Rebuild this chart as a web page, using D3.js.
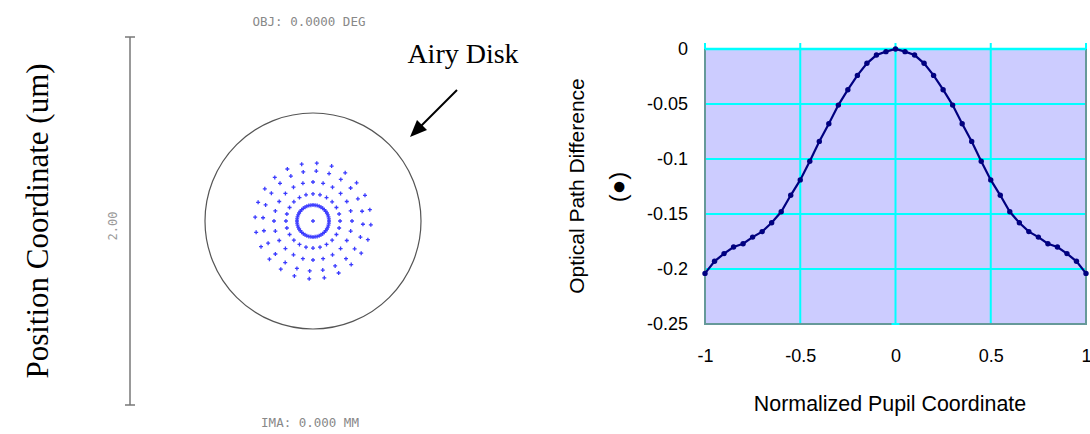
<!DOCTYPE html>
<html>
<head>
<meta charset="utf-8">
<script src="https://cdn.jsdelivr.net/npm/d3@7"></script>
<style>
  body { margin: 0; background: #fff; }
  svg { display: block; }
</style>
</head>
<body>
<div id="canvas"></div>
<script>
const width = 1090, height = 434;

// OPD curve (right panel)
const pupilX = [-1, -0.95, -0.9, -0.85, -0.8, -0.75, -0.7, -0.65, -0.6, -0.55, -0.5,
  -0.45, -0.4, -0.35, -0.3, -0.25, -0.2, -0.15, -0.1, -0.05, 0,
  0.05, 0.1, 0.15, 0.2, 0.25, 0.3, 0.35, 0.4, 0.45, 0.5,
  0.55, 0.6, 0.65, 0.7, 0.75, 0.8, 0.85, 0.9, 0.95, 1];
const opd = [-0.204, -0.193, -0.186, -0.180, -0.177, -0.171, -0.166, -0.158, -0.148, -0.133, -0.119,
  -0.102, -0.084, -0.068, -0.051, -0.037, -0.024, -0.013, -0.0055, -0.0024, 0,
  -0.0024, -0.0055, -0.013, -0.024, -0.037, -0.051, -0.068, -0.084, -0.102, -0.119,
  -0.133, -0.148, -0.158, -0.166, -0.171, -0.177, -0.180, -0.186, -0.193, -0.204];
const yTicks = [0, -0.05, -0.1, -0.15, -0.2, -0.25];
const xTicks = [-1, -0.5, 0, 0.5, 1];

// spot diagram (left panel), in um
const ringRadius = [0, 0.087, 0.147, 0.212, 0.272, 0.315];
const ringCount = [1, 48, 24, 24, 24, 24];
const airyRadius = 0.587;
const barEnds = [-1, 1];

const svg = d3.select("#canvas")
  .append("svg")
  .attr("width", width)
  .attr("height", height)
  .style("background-color", "#fff");

// ---------- left panel: spot diagram ----------
const cx = 313;
const sy = d3.scaleLinear().domain([-1, 1]).range([405, 37]);
const sr = d3.scaleLinear().domain([0, 1]).range([0, 184]);
const cy = sy(0);

// scale bar
svg.append("line")
  .attr("x1", 130).attr("x2", 130)
  .attr("y1", sy(barEnds[0])).attr("y2", sy(barEnds[1]))
  .attr("stroke", "#777").attr("stroke-width", 1.5);
svg.selectAll("line.cap")
  .data(barEnds)
  .join("line")
  .attr("class", "cap")
  .attr("x1", 125).attr("x2", 135)
  .attr("y1", d => sy(d)).attr("y2", d => sy(d))
  .attr("stroke", "#777").attr("stroke-width", 1.5);
svg.append("text")
  .attr("transform", `translate(117,${cy + 5}) rotate(-90)`)
  .attr("text-anchor", "middle")
  .attr("font-family", "DejaVu Sans Mono")
  .attr("font-size", 12)
  .attr("fill", "#999")
  .text("2.00");

svg.append("text")
  .attr("x", 309).attr("y", 26)
  .attr("text-anchor", "middle")
  .attr("font-family", "DejaVu Sans Mono")
  .attr("font-size", 12.5)
  .attr("fill", "#888")
  .text("OBJ: 0.0000 DEG");
svg.append("text")
  .attr("x", 310).attr("y", 427)
  .attr("text-anchor", "middle")
  .attr("font-family", "DejaVu Sans Mono")
  .attr("font-size", 12.5)
  .attr("fill", "#888")
  .text("IMA: 0.000 MM");

// airy disk
svg.append("circle")
  .attr("cx", cx).attr("cy", cy)
  .attr("r", sr(airyRadius))
  .attr("fill", "none")
  .attr("stroke", "#555")
  .attr("stroke-width", 1.2);

// spot points
const spots = [];
ringRadius.forEach((r, i) => {
  const n = ringCount[i];
  for (let k = 0; k < n; k++) {
    const a = (k / n) * 2 * Math.PI + (i >= 4 ? Math.PI / n * 0.5 : 0);
    spots.push({ x: cx + sr(r) * Math.cos(a), y: cy + sr(r) * Math.sin(a) });
  }
});
svg.append("g")
  .selectAll("path")
  .data(spots)
  .join("path")
  .attr("d", d => `M${d.x - 2},${d.y}h4M${d.x},${d.y - 2}v4`)
  .attr("stroke", "#3b3bff")
  .attr("stroke-width", 1.3);

// labels
svg.append("text")
  .attr("transform", `translate(48,221) rotate(-90)`)
  .attr("text-anchor", "middle")
  .attr("font-family", "Liberation Serif")
  .attr("font-size", 31)
  .attr("fill", "#000")
  .text("Position Coordinate (um)");
svg.append("text")
  .attr("x", 463).attr("y", 63)
  .attr("text-anchor", "middle")
  .attr("font-family", "Liberation Serif")
  .attr("font-size", 28)
  .attr("fill", "#000")
  .text("Airy Disk");

// arrow
svg.append("line")
  .attr("x1", 457).attr("y1", 90)
  .attr("x2", 420).attr("y2", 127)
  .attr("stroke", "#000").attr("stroke-width", 2);
svg.append("path")
  .attr("d", "M410,137L427,130L417,120Z")
  .attr("fill", "#000");

// ---------- right panel: OPD chart ----------
const x = d3.scaleLinear().domain([-1, 1]).range([705, 1086]);
const y = d3.scaleLinear().domain([0, -0.25]).range([49, 324]);

svg.append("rect")
  .attr("x", x(-1)).attr("y", y(0))
  .attr("width", x(1) - x(-1)).attr("height", y(-0.25) - y(0))
  .attr("fill", "#ccccff");

// gridlines
svg.append("g")
  .selectAll("line")
  .data(yTicks.filter(d => d !== 0 && d !== -0.25))
  .join("line")
  .attr("x1", x(-1)).attr("x2", x(1))
  .attr("y1", d => y(d)).attr("y2", d => y(d))
  .attr("stroke", "#00ffff").attr("stroke-width", 2);
svg.append("g")
  .selectAll("line")
  .data(xTicks.filter(d => d !== -1 && d !== 1))
  .join("line")
  .attr("x1", d => x(d)).attr("x2", d => x(d))
  .attr("y1", y(0)).attr("y2", y(-0.25))
  .attr("stroke", "#00ffff").attr("stroke-width", 2);

// frame
svg.append("path")
  .attr("d", `M${x(-1)},${y(0)}V${y(-0.25)}H${x(1)}V${y(0)}`)
  .attr("fill", "none")
  .attr("stroke", "#669999").attr("stroke-width", 2);

// x axis along y = 0 (top), ticks pointing up
svg.append("line")
  .attr("x1", x(-1)).attr("x2", x(1))
  .attr("y1", y(0)).attr("y2", y(0))
  .attr("stroke", "#00ffff").attr("stroke-width", 2.5);
svg.append("g")
  .selectAll("line")
  .data(xTicks)
  .join("line")
  .attr("x1", d => x(d)).attr("x2", d => x(d))
  .attr("y1", y(0) - 6).attr("y2", y(0))
  .attr("stroke", "#00ffff").attr("stroke-width", 2);

// y axis along x = 0, cross ticks
svg.append("g")
  .selectAll("line")
  .data(yTicks)
  .join("line")
  .attr("x1", x(0) - 4).attr("x2", x(0) + 4)
  .attr("y1", d => y(d)).attr("y2", d => y(d))
  .attr("stroke", "#00ffff").attr("stroke-width", 2);

// tick labels
const yAxis = svg.append("g")
  .attr("transform", `translate(${x(-1)},0)`)
  .call(d3.axisLeft(y).tickValues(yTicks).tickSize(0).tickPadding(17).tickFormat(d => String(d)));
const xAxis = svg.append("g")
  .attr("transform", `translate(0,${y(-0.25)})`)
  .call(d3.axisBottom(x).tickValues(xTicks).tickSize(0).tickPadding(25).tickFormat(d => String(d)));
[yAxis, xAxis].forEach(g => {
  g.select(".domain").remove();
  g.selectAll("text")
    .attr("font-family", "Liberation Sans")
    .attr("font-size", 18)
    .attr("fill", "#000");
});

// curve
const line = d3.line()
  .x((d, i) => x(pupilX[i]))
  .y(d => y(d));
svg.append("path")
  .datum(opd)
  .attr("d", line)
  .attr("fill", "none")
  .attr("stroke", "#000080")
  .attr("stroke-width", 2.2);
svg.append("g")
  .selectAll("circle")
  .data(opd)
  .join("circle")
  .attr("cx", (d, i) => x(pupilX[i]))
  .attr("cy", d => y(d))
  .attr("r", 2.7)
  .attr("fill", "#000080");

// axis titles
svg.append("text")
  .attr("transform", `translate(584,186) rotate(-90)`)
  .attr("text-anchor", "middle")
  .attr("font-family", "Liberation Sans")
  .attr("font-size", 21)
  .attr("fill", "#000")
  .text("Optical Path Difference");
svg.append("text")
  .attr("transform", `translate(626,187) rotate(-90)`)
  .attr("text-anchor", "middle")
  .attr("font-family", "Liberation Sans")
  .attr("font-size", 24)
  .attr("fill", "#000")
  .text("(●)");
svg.append("text")
  .attr("x", 890).attr("y", 411)
  .attr("text-anchor", "middle")
  .attr("font-family", "Liberation Sans")
  .attr("font-size", 21.4)
  .attr("fill", "#000")
  .text("Normalized Pupil Coordinate");
</script>
</body>
</html>
